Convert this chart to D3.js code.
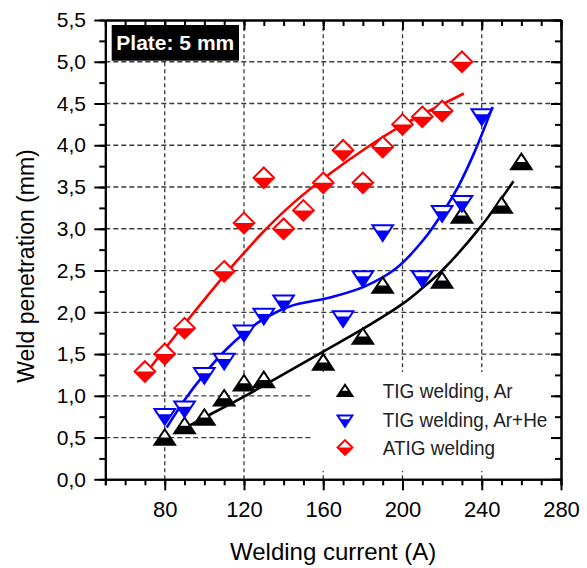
<!DOCTYPE html>
<html>
<head>
<meta charset="utf-8">
<script src="https://cdn.jsdelivr.net/npm/d3@7"></script>
<style>
  html, body { margin: 0; padding: 0; background: #fff; }
  svg { display: block; }
  text { font-family: "Liberation Sans", Arial, sans-serif; }
</style>
</head>
<body>
<svg id="chart" width="587" height="568"></svg>
<script>
// ---------- data ----------
const xTicks = [80, 120, 160, 200, 240, 280];
const xMinorTicks = d3.range(50, 281, 10);
const yTicks = [0, 0.5, 1, 1.5, 2, 2.5, 3, 3.5, 4, 4.5, 5, 5.5];
const yTickLabels = ["0,0", "0,5", "1,0", "1,5", "2,0", "2,5", "3,0", "3,5", "4,0", "4,5", "5,0", "5,5"];
const yMinorTicks = d3.range(0, 5.51, 0.25);

// TIG welding, Ar (black, up triangles)
const arCurrent = [80, 90, 100, 110, 120, 130, 160, 180, 190, 220, 230, 250, 260];
const arDepth   = [0.50, 0.64, 0.74, 0.97, 1.15, 1.19, 1.40, 1.71, 2.32, 2.38, 3.16, 3.28, 3.80];
// TIG welding, Ar+He (blue, down triangles)
const heCurrent = [80, 90, 100, 110, 120, 130, 140, 170, 180, 190, 210, 220, 230, 240];
const heDepth   = [0.78, 0.87, 1.27, 1.44, 1.78, 1.98, 2.14, 1.95, 2.43, 2.98, 2.43, 3.21, 3.33, 4.37];
// ATIG welding (red, diamonds)
const atCurrent = [70, 80, 90, 110, 120, 130, 140, 150, 160, 170, 180, 190, 200, 210, 220, 230];
const atDepth   = [1.29, 1.50, 1.81, 2.49, 3.07, 3.61, 3.00, 3.22, 3.55, 3.94, 3.55, 3.98, 4.25, 4.34, 4.41, 5.00];

// fitted trend curves
const fitArX = [85, 100, 120, 140, 160, 180, 200, 210, 220, 240, 256];
const fitArY = [0.55, 0.74, 0.99, 1.26, 1.53, 1.80, 2.10, 2.29, 2.50, 3.04, 3.57];
const fitHeX = [81, 90, 100, 110, 120, 130, 143, 164, 181, 197, 211, 221, 228, 236, 245.5];
const fitHeY = [0.62, 0.95, 1.26, 1.53, 1.75, 1.92, 2.07, 2.18, 2.31, 2.53, 2.88, 3.22, 3.50, 3.90, 4.46];
const fitAtX = [69, 80, 90, 110, 120, 130, 145, 164, 180, 200, 231];
const fitAtY = [1.22, 1.56, 1.86, 2.44, 2.71, 2.97, 3.31, 3.67, 3.94, 4.24, 4.62];

const seriesNames = ["TIG welding, Ar", "TIG welding, Ar+He", "ATIG welding"];
const seriesColors = ["#000000", "#0000ff", "#ff0000"];
const plateLabel = "Plate: 5 mm";
const xTitle = "Welding current (A)";
const yTitle = "Weld penetration (mm)";

// ---------- layout ----------
const svg = d3.select("#chart");
const L = 105.3, R = 561, T = 20, B = 479.3;
const x = d3.scaleLinear().domain([50, 280]).range([L, R]);
const y = d3.scaleLinear().domain([0, 5.5]).range([B, T]);

// grid
const grid = svg.append("g").attr("stroke", "#3a3a3a").attr("stroke-width", 1.3).attr("fill", "none");
xTicks.filter(v => v < 280).forEach(v => {
  grid.append("line").attr("x1", x(v)).attr("x2", x(v)).attr("y1", y(0)).attr("y2", y(5.5))
    .attr("stroke-dasharray", "4,3");
});
yTicks.filter(v => v > 0 && v < 5.5).forEach(v => {
  grid.append("line").attr("x1", x(50)).attr("x2", x(280)).attr("y1", y(v)).attr("y2", y(v))
    .attr("stroke-dasharray", "5,3");
});

// plate label
svg.append("rect").attr("x", 111.7).attr("y", 25).attr("width", 127.3).attr("height", 35.7).attr("fill", "#000");
svg.append("text").attr("x", 175.3).attr("y", 49.5).attr("text-anchor", "middle")
  .attr("fill", "#fff").attr("font-weight", "bold").attr("font-size", 21).text(plateLabel);

// fit lines
const lineGen = d3.line().x(d => x(d[0])).y(d => y(d[1])).curve(d3.curveCatmullRom.alpha(0.5));
[[fitArX, fitArY, 0], [fitHeX, fitHeY, 1], [fitAtX, fitAtY, 2]].forEach(([xs, ys, i]) => {
  svg.append("path").datum(xs.map((v, k) => [v, ys[k]])).attr("d", lineGen)
    .attr("fill", "none").attr("stroke", seriesColors[i]).attr("stroke-width", 2.6);
});

// markers
function marker(g, type, color, s) {
  let outline, lower;
  if (type === "up") {
    const a = 8.3 * s, b = 7.3 * s, h = 10.3 * s, w0 = h * a / (a + b);
    outline = `M0,${-a}L${h},${b}L${-h},${b}Z`;
    lower = `M${-w0},0L${w0},0L${h},${b}L${-h},${b}Z`;
  } else if (type === "down") {
    const t = 5.2 * s, b = 10.5 * s, h = 10.3 * s, w0 = h * b / (t + b);
    outline = `M${-h},${-t}L${h},${-t}L0,${b}Z`;
    lower = `M${-w0},0L${w0},0L0,${b}Z`;
  } else {
    const r = 10.3 * s;
    outline = `M0,${-r}L${r},0L0,${r}L${-r},0Z`;
    lower = `M${-r},0L${r},0L0,${r}Z`;
  }
  g.append("path").attr("d", outline).attr("fill", "#fff");
  g.append("path").attr("d", lower).attr("fill", color);
  g.append("path").attr("d", outline).attr("fill", "none").attr("stroke", color)
    .attr("stroke-width", 2).attr("stroke-linejoin", "miter");
}

const series = [
  [arCurrent, arDepth, "up", 0],
  [heCurrent, heDepth, "down", 1],
  [atCurrent, atDepth, "diamond", 2]
];
series.forEach(([xs, ys, type, i]) => {
  const g = svg.append("g");
  xs.forEach((v, k) => {
    marker(g.append("g").attr("transform", `translate(${x(v)},${y(ys[k])})`), type, seriesColors[i], 1);
  });
});

// legend
svg.append("rect").attr("x", 312).attr("y", 372).attr("width", 244).attr("height", 99).attr("fill", "#fff");
const legendBase = [398.3, 426.7, 455];
const legendLen = [130, 164.7, 112.3];
["up", "down", "diamond"].forEach((type, i) => {
  marker(svg.append("g").attr("transform", `translate(345,${legendBase[i] - 7.5})`), type, seriesColors[i], 0.72);
  svg.append("text").attr("x", 382.7).attr("y", legendBase[i]).attr("font-size", 20)
    .attr("fill", "#222").attr("textLength", legendLen[i]).attr("lengthAdjust", "spacingAndGlyphs")
    .text(seriesNames[i]);
});

// axes
const axStyle = g => {
  g.selectAll("path.domain").attr("stroke", "#000").attr("stroke-width", 2);
  g.selectAll(".tick line").attr("stroke", "#000").attr("stroke-width", 2);
};
// bottom
svg.append("g").attr("transform", `translate(0,${B})`)
  .call(d3.axisBottom(x).tickValues(xMinorTicks).tickSize(6).tickFormat(""))
  .call(axStyle);
svg.append("g").attr("transform", `translate(0,${B})`)
  .call(d3.axisBottom(x).tickValues(xTicks).tickSize(11).tickPadding(11.4).tickSizeOuter(0))
  .call(axStyle)
  .call(g => g.selectAll("text").attr("font-size", 22).attr("fill", "#000")
    .attr("font-family", '"Liberation Sans", Arial, sans-serif'));
// top
svg.append("g").attr("transform", `translate(0,${T})`)
  .call(d3.axisBottom(x).tickValues(xMinorTicks).tickSize(6).tickFormat("").tickSizeOuter(0))
  .call(axStyle);
svg.append("g").attr("transform", `translate(0,${T})`)
  .call(d3.axisBottom(x).tickValues(xTicks).tickSize(10).tickFormat("").tickSizeOuter(0))
  .call(axStyle);
// left
svg.append("g").attr("transform", `translate(${L},0)`)
  .call(d3.axisLeft(y).tickValues(yMinorTicks).tickSize(6).tickFormat("").tickSizeOuter(0))
  .call(axStyle);
svg.append("g").attr("transform", `translate(${L},0)`)
  .call(d3.axisLeft(y).tickValues(yTicks).tickSize(11).tickPadding(8.3).tickSizeOuter(0)
    .tickFormat((d, i) => yTickLabels[i]))
  .call(axStyle)
  .call(g => g.selectAll("text").attr("font-size", 21).attr("fill", "#000")
    .attr("font-family", '"Liberation Sans", Arial, sans-serif'));
// right
svg.append("g").attr("transform", `translate(${R},0)`)
  .call(d3.axisRight(y).tickValues(yMinorTicks).tickSize(-6).tickFormat("").tickSizeOuter(0))
  .call(axStyle);
svg.append("g").attr("transform", `translate(${R},0)`)
  .call(d3.axisRight(y).tickValues(yTicks).tickSize(-10).tickFormat("").tickSizeOuter(0))
  .call(axStyle);

// axis titles
svg.append("text").attr("x", (L + R) / 2).attr("y", 560).attr("text-anchor", "middle")
  .attr("font-size", 24).attr("fill", "#000").text(xTitle);
svg.append("text").attr("transform", "translate(34,266) rotate(-90)").attr("text-anchor", "middle")
  .attr("font-size", 23).attr("fill", "#000").text(yTitle);
</script>
</body>
</html>
